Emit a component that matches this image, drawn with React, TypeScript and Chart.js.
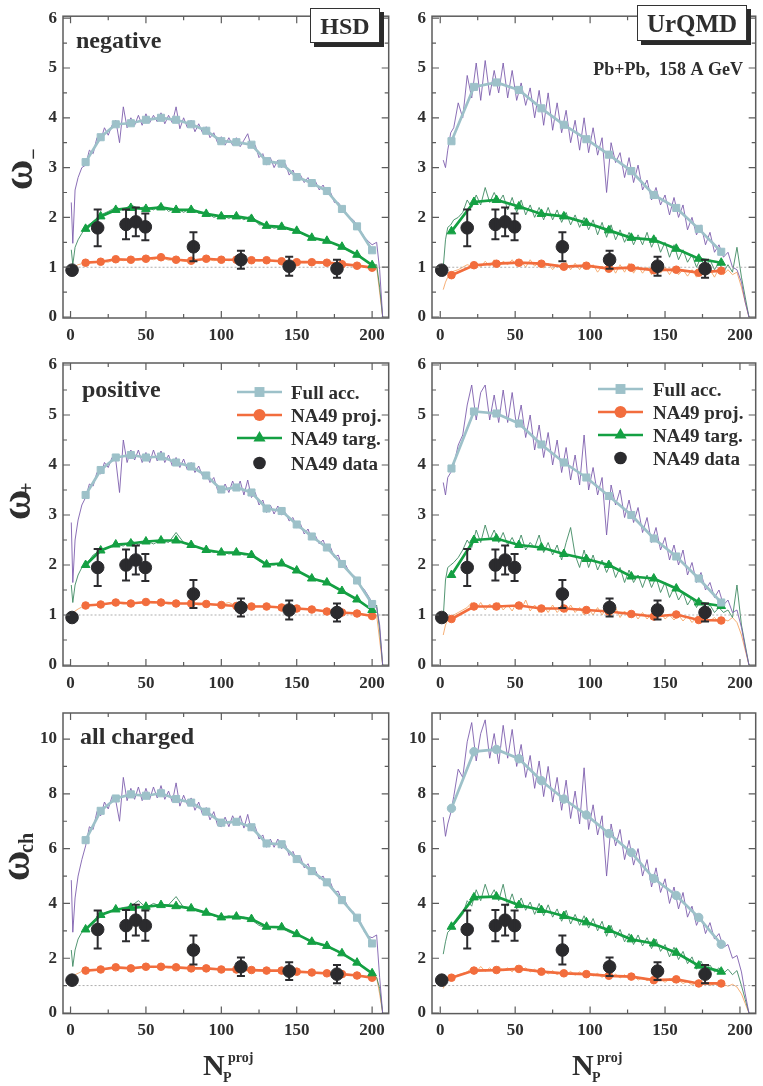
import React, { useEffect, useRef } from 'react';
import { Chart, registerables } from 'chart.js';

Chart.register(...registerables);

const FONT = "'Liberation Serif', 'Times New Roman', serif";
const TEXT_COLOR = '#2e2e2e';
const FULL_COLOR = '#9dc1c9';
const FULL_RAW_COLOR = '#7e5fae';
const PROJ_COLOR = '#f26d3d';
const PROJ_RAW_COLOR = '#f5a565';
const TARG_COLOR = '#14a043';
const TARG_RAW_COLOR = '#3f8a62';
const DATA_COLOR = '#2b2b2e';

// ---- axes ----
const X_TICKS = [0, 50, 100, 150, 200];
const X_MINOR = [25, 75, 125, 175];
const Y_TICKS_PM = [0, 1, 2, 3, 4, 5, 6];
const Y_MINOR_PM = [0.5, 1.5, 2.5, 3.5, 4.5, 5.5];
const Y_TICKS_CH = [0, 2, 4, 6, 8, 10];
const Y_MINOR_CH = [1, 3, 5, 7, 9];

// ---- model points (thick lines) ----
const HSD_X = [10, 20, 30, 40, 50, 60, 70, 80, 90, 100, 110, 120, 130, 140, 150, 160, 170, 180, 190, 200];
const URQMD_X = [7.5, 22.5, 37.5, 52.5, 67.5, 82.5, 97.5, 112.5, 127.5, 142.5, 157.5, 172.5, 187.5];

const HSD_NEG_FULL = [3.11, 3.61, 3.87, 3.89, 3.96, 4.0, 3.96, 3.87, 3.74, 3.53, 3.51, 3.46, 3.13, 3.08, 2.81, 2.69, 2.53, 2.17, 1.82, 1.34];
const HSD_NEG_PROJ = [1.09, 1.11, 1.16, 1.15, 1.17, 1.2, 1.15, 1.13, 1.17, 1.15, 1.15, 1.14, 1.14, 1.12, 1.1, 1.1, 1.09, 1.06, 1.03, 0.99];
const HSD_NEG_TARG = [1.77, 2.02, 2.15, 2.19, 2.17, 2.2, 2.15, 2.15, 2.07, 2.02, 2.02, 1.97, 1.83, 1.81, 1.73, 1.59, 1.53, 1.41, 1.25, 1.04];

const HSD_POS_FULL = [3.4, 3.9, 4.15, 4.2, 4.15, 4.17, 4.05, 3.97, 3.79, 3.51, 3.55, 3.45, 3.13, 3.08, 2.81, 2.57, 2.35, 2.02, 1.69, 1.22];
const HSD_POS_PROJ = [1.19, 1.21, 1.25, 1.23, 1.26, 1.25, 1.23, 1.23, 1.22, 1.2, 1.18, 1.17, 1.17, 1.15, 1.13, 1.11, 1.07, 1.05, 1.03, 0.98];
const HSD_POS_TARG = [2.0, 2.29, 2.41, 2.43, 2.47, 2.49, 2.49, 2.4, 2.3, 2.25, 2.25, 2.2, 2.01, 2.03, 1.89, 1.73, 1.65, 1.48, 1.31, 1.1];

const HSD_CH_FULL = [6.31, 7.38, 7.83, 7.98, 7.93, 8.02, 7.81, 7.68, 7.35, 6.95, 6.98, 6.78, 6.19, 6.16, 5.62, 5.18, 4.77, 4.12, 3.48, 2.54];
const HSD_CH_PROJ = [1.55, 1.59, 1.67, 1.63, 1.69, 1.69, 1.67, 1.63, 1.63, 1.59, 1.59, 1.57, 1.55, 1.55, 1.51, 1.48, 1.45, 1.42, 1.37, 1.29];
const HSD_CH_TARG = [3.05, 3.58, 3.78, 3.84, 3.88, 3.94, 3.9, 3.82, 3.66, 3.49, 3.52, 3.43, 3.15, 3.13, 2.88, 2.6, 2.45, 2.18, 1.84, 1.45];

const URQMD_NEG_FULL = [3.53, 4.62, 4.71, 4.56, 4.19, 3.86, 3.57, 3.26, 2.93, 2.45, 2.19, 1.77, 1.31];
const URQMD_NEG_PROJ = [0.84, 1.04, 1.07, 1.09, 1.07, 1.01, 1.03, 0.97, 0.99, 0.94, 0.95, 0.89, 0.93];
const URQMD_NEG_TARG = [1.72, 2.31, 2.35, 2.22, 2.07, 2.02, 1.89, 1.74, 1.59, 1.55, 1.37, 1.17, 1.09];

const URQMD_POS_FULL = [3.93, 5.07, 5.03, 4.83, 4.41, 4.05, 3.75, 3.38, 3.0, 2.53, 2.17, 1.73, 1.25];
const URQMD_POS_PROJ = [0.92, 1.17, 1.17, 1.19, 1.13, 1.13, 1.1, 1.07, 1.02, 0.97, 1.01, 0.9, 0.89];
const URQMD_POS_TARG = [1.8, 2.5, 2.53, 2.4, 2.35, 2.22, 2.12, 2.0, 1.77, 1.73, 1.53, 1.25, 1.18];

const URQMD_CH_FULL = [7.47, 9.54, 9.62, 9.28, 8.48, 7.81, 7.23, 6.55, 5.86, 4.91, 4.29, 3.49, 2.51];
const URQMD_CH_PROJ = [1.29, 1.55, 1.57, 1.61, 1.51, 1.45, 1.42, 1.36, 1.33, 1.2, 1.23, 1.08, 1.08];
const URQMD_CH_TARG = [3.15, 4.22, 4.25, 3.94, 3.76, 3.54, 3.31, 3.03, 2.69, 2.54, 2.2, 1.73, 1.51];

// ---- NA49 data ----
const NA49_X = [1, 18, 36.8, 43.3, 49.6, 81.5, 113, 145, 176.7];
const NA49_NEG = [0.94, 1.79, 1.86, 1.91, 1.81, 1.41, 1.15, 1.02, 0.97];
const NA49_NEG_ERR = [0, 0.37, 0.3, 0.29, 0.27, 0.29, 0.18, 0.19, 0.18];
const NA49_POS = [0.95, 1.95, 2.0, 2.1, 1.95, 1.42, 1.15, 1.1, 1.05];
const NA49_POS_ERR = [0, 0.37, 0.31, 0.29, 0.27, 0.28, 0.18, 0.19, 0.18];
const NA49_CH = [1.2, 3.05, 3.19, 3.39, 3.19, 2.3, 1.69, 1.53, 1.42];
const NA49_CH_ERR = [0, 0.69, 0.57, 0.56, 0.55, 0.53, 0.34, 0.32, 0.33];

const REF_X = [0, 211];
const REF_Y = [1, 1];

// ---- raw (event-by-event) model curves ----
const HSD_FULL_RAW_X = [0.5, 1.5, 3, 5, 7.5,
  10, 12.5, 15, 17.5, 20, 22.5, 25, 27.5,
  30, 32.5, 35, 37.5, 40, 42.5, 45, 47.5,
  50, 52.5, 55, 57.5, 60, 62.5, 65, 67.5,
  70, 72.5, 75, 77.5, 80, 82.5, 85, 87.5,
  90, 92.5, 95, 97.5, 100, 102.5, 105, 107.5,
  110, 112.5, 115, 117.5, 120, 122.5, 125, 127.5,
  130, 132.5, 135, 137.5, 140, 142.5, 145, 147.5,
  150, 152.5, 155, 157.5, 160, 162.5, 165, 167.5,
  170, 172.5, 175, 177.5, 180, 182.5, 185, 187.5,
  190, 192.5, 195, 197.5, 200,
  203, 205, 207];

const HSD_NEG_FULL_RAW = [2.3, 1.48, 2.55, 2.8, 3.0,
  3.05, 3.35, 3.28, 3.6, 3.55, 3.8, 3.65, 3.85,
  3.95, 3.5, 4.22, 3.8, 4.0, 3.85, 4.05, 3.85,
  4.08, 3.9, 4.05, 3.92, 4.1, 3.88, 4.05, 3.9,
  4.22, 3.78, 4.0, 3.8, 3.95, 3.72, 3.88, 3.7,
  3.82, 3.6, 3.7, 3.5, 3.62, 3.45, 3.6, 3.45,
  3.6, 3.42, 3.55, 3.68, 3.4, 3.45, 3.2, 3.28,
  3.05, 3.2, 3.0, 3.15, 3.0, 3.08, 2.85, 2.95,
  2.75, 2.85, 2.7, 2.8, 2.62, 2.72, 2.55, 2.65,
  2.48, 2.5, 2.3, 2.3, 2.2, 2.1, 2.0, 1.95,
  1.85, 1.72, 1.6, 1.52, 1.45,
  1.5, 0.95, 0];
const HSD_POS_FULL_RAW = [2.85, 1.65, 2.5, 2.9, 3.2,
  3.35, 3.62, 3.58, 3.85, 3.82, 4.05, 3.95, 4.15,
  4.1, 3.45, 4.5, 4.05, 4.3, 4.1, 4.3, 4.05,
  4.25, 4.05, 4.3, 4.08, 4.28, 4.05, 4.2, 3.98,
  4.15, 3.95, 4.12, 3.9, 4.05, 3.85, 3.98, 3.78,
  3.85, 3.65, 3.75, 3.5, 3.45, 3.62, 3.45, 3.68,
  3.48, 3.68, 3.4, 3.7, 3.35, 3.45, 3.2, 3.3,
  3.05, 3.2, 3.02, 3.18, 3.0, 3.05, 2.88, 2.95,
  2.75, 2.82, 2.62, 2.72, 2.5, 2.58, 2.42, 2.5,
  2.3, 2.35, 2.15, 2.2, 2.0, 2.0, 1.85, 1.8,
  1.72, 1.58, 1.5, 1.38, 1.25,
  1.15, 0.8, 0];
const HSD_CH_FULL_RAW = [4.85, 2.95, 4.2, 5.0, 5.6,
  6.1, 6.8, 6.7, 7.35, 7.2, 7.7, 7.45, 7.9,
  7.75, 7.0, 8.6, 7.75, 8.2, 7.8, 8.25, 7.75,
  8.2, 7.8, 8.25, 7.85, 8.3, 7.8, 8.1, 7.7,
  8.4, 7.55, 7.95, 7.6, 7.85, 7.4, 7.7, 7.25,
  7.5, 7.05, 7.35, 6.85, 6.8, 7.15, 6.8, 7.2,
  6.9, 7.2, 6.75, 7.25, 6.65, 6.8, 6.35, 6.5,
  6.05, 6.35, 6.05, 6.35, 6.0, 6.15, 5.75, 5.9,
  5.55, 5.7, 5.3, 5.45, 5.1, 5.2, 4.9, 5.0,
  4.7, 4.75, 4.4, 4.45, 4.1, 4.05, 3.75, 3.7,
  3.45, 3.3, 2.95, 2.8, 2.75,
  2.85, 1.3, 0];

const HSD_RAW_X = [0.5, 1.5, 3, 5, 7.5,
  10, 15, 20, 25, 30, 35, 40, 45, 50, 55,
  60, 65, 70, 75, 80, 85, 90, 95, 100, 105,
  110, 115, 120, 125, 130, 135, 140, 145, 150, 155,
  160, 165, 170, 175, 180, 185, 190, 195, 200,
  203, 205, 207];

const HSD_NEG_TARG_RAW = [1.35, 1.05, 1.4, 1.55, 1.68,
  1.8, 1.92, 2.05, 2.12, 2.2, 2.15, 2.25, 2.18, 2.22, 2.15,
  2.27, 2.12, 2.2, 2.1, 2.2, 2.08, 2.1, 2.0, 2.05, 1.98,
  2.05, 1.95, 2.05, 1.85, 1.85, 1.78, 1.82, 1.75, 1.72, 1.65,
  1.6, 1.55, 1.52, 1.47, 1.4, 1.32, 1.25, 1.15, 1.05,
  1.05, 0.6, 0];
const HSD_NEG_PROJ_RAW = [0.95, 0.98, 1.02, 1.05, 1.07,
  1.08, 1.1, 1.12, 1.1, 1.17, 1.13, 1.16, 1.14, 1.19, 1.15,
  1.2, 1.14, 1.16, 1.12, 1.1, 1.14, 1.17, 1.13, 1.16, 1.13,
  1.15, 1.13, 1.14, 1.12, 1.15, 1.11, 1.12, 1.1, 1.1, 1.09,
  1.1, 1.07, 1.09, 1.06, 1.06, 1.04, 1.03, 1.01, 0.99,
  1.0, 0.5, 0];
const HSD_POS_TARG_RAW = [1.6, 1.25, 1.6, 1.8, 1.95,
  2.0, 2.2, 2.3, 2.35, 2.42, 2.38, 2.5, 2.4, 2.5, 2.42,
  2.5, 2.45, 2.65, 2.45, 2.4, 2.35, 2.3, 2.25, 2.28, 2.22,
  2.25, 2.2, 2.22, 2.08, 2.02, 2.0, 2.05, 1.95, 1.9, 1.8,
  1.75, 1.68, 1.65, 1.55, 1.48, 1.4, 1.3, 1.2, 1.1,
  1.2, 0.7, 0];
const HSD_POS_PROJ_RAW = [0.97, 1.02, 1.08, 1.12, 1.16,
  1.18, 1.2, 1.22, 1.23, 1.25, 1.22, 1.24, 1.23, 1.26, 1.24,
  1.25, 1.22, 1.24, 1.23, 1.24, 1.2, 1.22, 1.2, 1.21, 1.25,
  1.18, 1.2, 1.16, 1.18, 1.16, 1.17, 1.15, 1.14, 1.13, 1.12,
  1.11, 1.09, 1.07, 1.06, 1.05, 1.04, 1.03, 1.0, 0.98,
  1.0, 0.5, 0];
const HSD_CH_TARG_RAW = [2.3, 1.7, 2.3, 2.7, 2.95,
  3.05, 3.35, 3.6, 3.7, 3.75, 3.85, 3.9, 4.1, 3.85, 4.0,
  3.9, 3.95, 4.25, 3.85, 3.8, 3.7, 3.65, 3.55, 3.45, 3.55,
  3.45, 3.5, 3.4, 3.2, 3.1, 3.15, 3.1, 2.95, 2.85, 2.75,
  2.6, 2.5, 2.42, 2.3, 2.15, 2.0, 1.85, 1.65, 1.45,
  1.3, 0.9, 0];
const HSD_CH_PROJ_RAW = [1.2, 1.3, 1.4, 1.45, 1.52,
  1.55, 1.58, 1.6, 1.62, 1.66, 1.63, 1.65, 1.64, 1.7, 1.66,
  1.69, 1.65, 1.67, 1.64, 1.62, 1.64, 1.63, 1.6, 1.6, 1.58,
  1.6, 1.57, 1.57, 1.55, 1.56, 1.54, 1.55, 1.52, 1.51, 1.49,
  1.48, 1.46, 1.45, 1.43, 1.42, 1.39, 1.37, 1.33, 1.29,
  1.3, 0.7, 0];

const URQMD_RAW_X = [2, 3.5, 5, 7,
  9, 12, 15, 18, 21, 24, 27, 30, 33, 36,
  39, 42, 45, 48, 51, 54, 57, 60, 63, 66,
  69, 72, 75, 78, 81, 84, 87, 90, 93, 96,
  99, 102, 105, 108, 111, 114, 117, 120, 123, 126,
  129, 132, 135, 138, 141, 144, 147, 150, 153, 156,
  159, 162, 165, 168, 171, 174, 177, 180, 183, 186,
  189, 192, 195, 198, 201,
  203.5, 206];

const URQMD_NEG_FULL_RAW = [3.15, 3.0, 3.35, 3.7,
  3.8, 4.3, 4.0, 4.85, 4.4, 5.1, 4.35, 5.15, 4.45, 4.95,
  4.5, 5.1, 4.4, 4.95, 4.35, 4.7, 4.25, 4.6, 4.0, 4.55,
  3.85, 4.5, 3.75, 4.3, 3.7, 4.15, 3.5, 3.95, 3.35, 4.0,
  3.3, 3.8, 3.25, 3.6, 2.5, 3.5, 3.1, 3.3, 2.8, 3.2,
  2.7, 3.05, 2.55, 2.75, 2.35, 2.6, 2.25, 2.45, 2.05, 2.4,
  2.0, 2.25, 1.75, 2.0, 1.65, 1.85, 1.45, 1.7, 1.3, 1.45,
  1.2, 1.3, 1.0, 0.95, 0.7,
  0.3, 0];
const URQMD_NEG_TARG_RAW = [1.0, 1.55, 1.8, 1.85,
  1.95, 2.0, 2.1, 2.35, 2.2, 2.45, 2.25, 2.6, 2.3, 2.5,
  2.3, 2.45, 2.15, 2.4, 2.1, 2.35, 2.05, 2.25, 2.0, 2.2,
  1.95, 2.2, 1.95, 2.15, 1.9, 2.1, 1.85, 2.05, 1.8, 2.0,
  1.75, 1.95, 1.65, 1.9, 1.6, 1.85, 1.55, 1.75, 1.5, 1.7,
  1.45, 1.65, 1.45, 1.7, 1.4, 1.6, 1.3, 1.5, 1.2, 1.45,
  1.15, 1.35, 1.1, 1.25, 1.0, 1.2, 0.95, 1.15, 0.95, 1.1,
  0.9, 1.05, 0.9, 1.4, 0.8,
  0.4, 0];
const URQMD_NEG_PROJ_RAW = [0.55, 0.7, 0.8, 0.88,
  0.92, 0.95, 1.0, 1.05, 1.02, 1.1, 1.0, 1.12, 1.02, 1.15,
  1.0, 1.12, 1.05, 1.15, 1.02, 1.12, 1.0, 1.15, 1.02, 1.1,
  0.98, 1.08, 0.95, 1.05, 0.95, 1.1, 0.95, 1.08, 0.95, 1.1,
  0.95, 1.05, 0.9, 1.02, 0.92, 1.05, 0.88, 1.05, 0.9, 1.08,
  0.88, 1.02, 0.88, 1.0, 0.85, 1.0, 0.88, 1.0, 0.85, 1.0,
  0.85, 0.95, 0.82, 0.95, 0.8, 0.92, 0.82, 0.95, 0.8, 0.98,
  0.85, 0.95, 0.85, 0.9, 0.6,
  0.3, 0];

const URQMD_POS_FULL_RAW = [3.65, 3.4, 3.75, 3.85,
  4.0, 4.4, 4.6, 5.2, 5.6, 4.9, 5.45, 5.6, 4.9, 5.4,
  4.85, 5.5, 4.85, 5.45, 4.75, 5.2, 4.55, 5.0, 4.3, 4.8,
  4.15, 4.65, 4.0, 4.5, 3.85, 4.35, 3.7, 4.2, 3.6, 4.6,
  3.5, 3.95, 3.4, 3.75, 2.6, 3.6, 3.2, 3.5, 2.95, 3.3,
  2.85, 3.15, 2.65, 2.95, 2.45, 2.75, 2.3, 2.55, 2.1, 2.4,
  2.0, 2.3, 1.8, 2.05, 1.65, 1.85, 1.5, 1.65, 1.35, 1.5,
  1.2, 1.3, 1.05, 1.1, 0.75,
  0.35, 0];
const URQMD_POS_TARG_RAW = [0.95, 1.7, 1.95, 2.0,
  2.05, 2.15, 2.3, 2.5, 2.35, 2.7, 2.45, 2.8, 2.5, 2.7,
  2.45, 2.65, 2.4, 2.55, 2.35, 2.6, 2.3, 2.45, 2.35, 2.6,
  2.25, 2.45, 2.2, 2.4, 2.1, 2.45, 2.75, 2.2, 1.95, 2.3,
  1.95, 2.2, 1.9, 2.1, 1.85, 2.05, 1.75, 1.95, 1.65, 1.9,
  1.65, 1.8, 1.55, 1.8, 1.55, 1.75, 1.45, 1.65, 1.35, 1.55,
  1.3, 1.45, 1.2, 1.35, 1.15, 1.3, 1.1, 1.2, 1.05, 1.15,
  1.05, 1.1, 0.95, 1.6, 0.8,
  0.4, 0];
const URQMD_POS_PROJ_RAW = [0.6, 0.8, 0.9, 0.95,
  1.0, 1.05, 1.1, 1.15, 1.25, 1.12, 1.25, 1.1, 1.22, 1.1,
  1.25, 1.1, 1.2, 1.08, 1.25, 1.1, 1.3, 1.08, 1.2, 1.05,
  1.18, 1.05, 1.2, 1.05, 1.15, 1.05, 1.2, 1.05, 1.15, 1.0,
  1.12, 1.0, 1.15, 1.0, 1.15, 0.98, 1.15, 0.95, 1.08, 0.95,
  1.05, 0.92, 1.05, 0.92, 1.02, 0.9, 1.05, 0.92, 1.0, 0.9,
  1.0, 0.88, 0.98, 0.85, 0.95, 0.85, 0.95, 0.88, 0.95, 0.85,
  0.92, 0.88, 0.95, 0.85, 0.6,
  0.3, 0];

const URQMD_CH_FULL_RAW = [7.15, 6.45, 6.9, 7.3,
  7.9, 8.9, 8.6, 9.9, 10.6, 9.2, 10.2, 10.7, 9.3, 10.2,
  9.1, 10.5, 9.3, 10.35, 9.0, 9.8, 8.6, 9.4, 8.2, 9.2,
  7.9, 9.0, 7.7, 8.6, 7.4, 8.5, 7.1, 8.1, 6.9, 8.95,
  6.7, 7.6, 6.5, 7.2, 5.0, 6.9, 6.1, 6.7, 5.6, 6.3,
  5.4, 6.0, 5.0, 5.6, 4.6, 5.3, 4.4, 4.9, 4.0, 4.6,
  3.8, 4.4, 3.5, 3.9, 3.2, 3.6, 2.9, 3.3, 2.7, 2.9,
  2.4, 2.5, 2.0, 2.1, 1.5,
  0.7, 0];
const URQMD_CH_TARG_RAW = [2.15, 2.6, 2.95, 3.05,
  3.2, 3.4, 3.6, 4.1, 3.9, 4.5, 4.1, 4.7, 4.2, 4.5,
  4.1, 4.7, 3.9, 4.35, 3.8, 4.2, 3.75, 4.05, 3.6, 4.0,
  3.55, 3.95, 3.5, 3.8, 3.35, 3.75, 3.25, 3.6, 3.2, 3.55,
  3.1, 3.45, 3.0, 3.35, 2.8, 3.2, 2.75, 3.05, 2.6, 2.9,
  2.5, 2.85, 2.45, 2.75, 2.35, 2.7, 2.25, 2.5, 2.05, 2.4,
  1.95, 2.25, 1.8, 2.05, 1.6, 1.9, 1.55, 1.75, 1.5, 1.65,
  1.45, 1.6, 1.4, 1.55, 1.0,
  0.5, 0];
const URQMD_CH_PROJ_RAW = [0.9, 1.1, 1.2, 1.25,
  1.3, 1.4, 1.45, 1.5, 1.65, 1.5, 1.7, 1.52, 1.65, 1.5,
  1.7, 1.55, 1.65, 1.5, 1.75, 1.55, 1.65, 1.5, 1.6, 1.45,
  1.6, 1.42, 1.55, 1.4, 1.55, 1.4, 1.52, 1.38, 1.5, 1.35,
  1.48, 1.35, 1.45, 1.3, 1.45, 1.3, 1.42, 1.28, 1.4, 1.25,
  1.38, 1.2, 1.3, 1.18, 1.28, 1.15, 1.25, 1.12, 1.25, 1.1,
  1.2, 1.08, 1.15, 1.02, 1.12, 1.0, 1.1, 1.0, 1.08, 1.0,
  1.05, 0.98, 1.05, 0.95, 0.7,
  0.35, 0];

const LEGEND_LABELS = ['Full acc.', 'NA49 proj.', 'NA49 targ.', 'NA49 data'];

// ---------------------------------------------------------------
type Ctx = CanvasRenderingContext2D;

type PanelSpec = {
  key: string;
  left: number; top: number; w: number; h: number;
  padTop: number; padRight: number; yW: number; xH: number;
  xMin: number; xMax: number; yMin: number; yMax: number;
  yTicks: number[]; yMinor: number[];
  modelX: number[]; full: number[]; proj: number[]; targ: number[];
  fullMarker: string;
  fullRawX: number[]; rawX: number[]; fullRaw: number[]; projRaw: number[]; targRaw: number[];
  data: number[]; err: number[];
  decorate: (ctx: Ctx) => void;
};

const pts = (xs: number[], ys: number[]) => xs.map((x, i) => ({ x, y: ys[i] }));

function text(ctx: Ctx, s: string, x: number, y: number, size: number, align: CanvasTextAlign = 'left') {
  ctx.font = `bold ${size}px ${FONT}`;
  ctx.fillStyle = TEXT_COLOR;
  ctx.textAlign = align;
  ctx.textBaseline = 'alphabetic';
  ctx.fillText(s, x, y);
}

function boxLabel(ctx: Ctx, s: string, x: number, y: number, w: number, h: number, size: number) {
  ctx.fillStyle = '#2a2a2a';
  ctx.fillRect(x + 4, y + 4, w, h);
  ctx.fillStyle = '#ffffff';
  ctx.fillRect(x, y, w, h);
  ctx.strokeStyle = '#333';
  ctx.lineWidth = 1;
  ctx.strokeRect(x + 0.5, y + 0.5, w - 1, h - 1);
  text(ctx, s, x + w / 2, y + h - 9, size, 'center');
}

function rotText(ctx: Ctx, s: string, cx: number, cy: number, font: string) {
  ctx.save();
  ctx.translate(cx, cy);
  ctx.rotate(-Math.PI / 2);
  ctx.font = font;
  ctx.fillStyle = TEXT_COLOR;
  ctx.textAlign = 'center';
  ctx.textBaseline = 'middle';
  ctx.fillText(s, 0, 0);
  ctx.restore();
}

function omega(ctx: Ctx, cx: number, cy: number, sub: string, sx: number, sy: number, subSize: number) {
  rotText(ctx, 'ω', cx, cy, `bold 42px ${FONT}`);
  rotText(ctx, sub, sx, sy, `bold ${subSize}px ${FONT}`);
}

function xTitle(ctx: Ctx, nx: number, base: number) {
  text(ctx, 'N', nx, base, 30);
  text(ctx, 'P', nx + 20, base + 7, 14);
  text(ctx, 'proj', nx + 25, base - 13, 14);
}

function marker(ctx: Ctx, style: string, x: number, y: number, r: number, color: string) {
  ctx.fillStyle = color;
  ctx.beginPath();
  if (style === 'rect') {
    const s = r * Math.SQRT1_2;
    ctx.rect(x - s, y - s, 2 * s, 2 * s);
  } else if (style === 'triangle') {
    let a = 0;
    ctx.moveTo(x + Math.sin(a) * r, y - Math.cos(a) * r);
    a += (2 * Math.PI) / 3;
    ctx.lineTo(x + Math.sin(a) * r, y - Math.cos(a) * r);
    a += (2 * Math.PI) / 3;
    ctx.lineTo(x + Math.sin(a) * r, y - Math.cos(a) * r);
    ctx.closePath();
  } else {
    ctx.arc(x, y, r, 0, Math.PI * 2);
  }
  ctx.fill();
}

function legend(ctx: Ctx, x1: number, x2: number, tx: number, ys: number[]) {
  const styles = [
    { c: FULL_COLOR, m: 'rect', r: 7 },
    { c: PROJ_COLOR, m: 'circle', r: 6 },
    { c: TARG_COLOR, m: 'triangle', r: 7 },
  ];
  const mid = (x1 + x2) / 2;
  styles.forEach((s, i) => {
    ctx.strokeStyle = s.c;
    ctx.lineWidth = 2.7;
    ctx.beginPath();
    ctx.moveTo(x1, ys[i]);
    ctx.lineTo(x2, ys[i]);
    ctx.stroke();
    marker(ctx, s.m, mid, ys[i], s.r, s.c);
  });
  marker(ctx, 'circle', mid, ys[3], 6.3, DATA_COLOR);
  LEGEND_LABELS.forEach((l, i) => text(ctx, l, tx, ys[i] + 7, 19));
}

function buildConfig(p: PanelSpec): any {
  const tickFont = { family: FONT, size: 17, weight: 'bold' as const };
  const datasets: any[] = [
    {
      data: pts(NA49_X, p.data), showLine: false, pointRadius: 6.3, pointHoverRadius: 6.3,
      pointStyle: 'circle', pointBackgroundColor: DATA_COLOR, pointBorderColor: DATA_COLOR,
      borderColor: DATA_COLOR, backgroundColor: DATA_COLOR, order: 1, errors: p.err,
    },
    {
      data: pts(p.modelX, p.full), borderColor: FULL_COLOR, backgroundColor: FULL_COLOR, borderWidth: 2.7,
      pointStyle: p.fullMarker, pointRadius: p.fullMarker === 'rect' ? 5 : 4.2, pointHoverRadius: 5,
      pointBackgroundColor: FULL_COLOR, pointBorderColor: FULL_COLOR, pointBorderWidth: 1, order: 3,
    },
    {
      data: pts(p.modelX, p.targ), borderColor: TARG_COLOR, backgroundColor: TARG_COLOR, borderWidth: 2.7,
      pointStyle: 'triangle', pointRadius: 5, pointHoverRadius: 5,
      pointBackgroundColor: TARG_COLOR, pointBorderColor: TARG_COLOR, pointBorderWidth: 1, order: 3,
    },
    {
      data: pts(p.modelX, p.proj), borderColor: PROJ_COLOR, backgroundColor: PROJ_COLOR, borderWidth: 2.7,
      pointStyle: 'circle', pointRadius: 3.8, pointHoverRadius: 3.8,
      pointBackgroundColor: PROJ_COLOR, pointBorderColor: PROJ_COLOR, pointBorderWidth: 1, order: 3,
    },
    {
      data: pts(REF_X, REF_Y), borderColor: '#9a9a9a', borderWidth: 0.8, borderDash: [2, 2],
      pointRadius: 0, order: 9,
    },
    { data: pts(p.fullRawX, p.fullRaw), borderColor: FULL_RAW_COLOR, borderWidth: 0.9, pointRadius: 0, order: 10 },
    { data: pts(p.rawX, p.targRaw), borderColor: TARG_RAW_COLOR, borderWidth: 0.9, pointRadius: 0, order: 10 },
    { data: pts(p.rawX, p.projRaw), borderColor: PROJ_RAW_COLOR, borderWidth: 0.9, pointRadius: 0, order: 10 },
  ];

  const deco = {
    id: 'deco',
    afterDatasetsDraw(chart: any) {
      const ctx: Ctx = chart.ctx;
      const xs = chart.scales.x;
      const ys = chart.scales.y;
      // error bars
      chart.data.datasets.forEach((ds: any, di: number) => {
        if (!ds.errors) return;
        const meta = chart.getDatasetMeta(di);
        ctx.save();
        ctx.strokeStyle = DATA_COLOR;
        ctx.lineWidth = 2;
        meta.data.forEach((el: any, i: number) => {
          const e = ds.errors[i];
          if (!e) return;
          const v = ds.data[i].y;
          const x = el.x;
          const y1 = ys.getPixelForValue(v + e);
          const y2 = ys.getPixelForValue(v - e);
          ctx.beginPath();
          ctx.moveTo(x, y1); ctx.lineTo(x, y2);
          ctx.moveTo(x - 4, y1); ctx.lineTo(x + 4, y1);
          ctx.moveTo(x - 4, y2); ctx.lineTo(x + 4, y2);
          ctx.stroke();
        });
        ctx.restore();
      });
      // frame and inward ticks
      const a = chart.chartArea;
      ctx.save();
      ctx.strokeStyle = '#5c5c5c';
      ctx.lineWidth = 1.5;
      ctx.strokeRect(a.left, a.top, a.right - a.left, a.bottom - a.top);
      ctx.lineWidth = 1.2;
      ctx.beginPath();
      const yt = (v: number, len: number) => {
        const y = ys.getPixelForValue(v);
        ctx.moveTo(a.left, y); ctx.lineTo(a.left + len, y);
        ctx.moveTo(a.right, y); ctx.lineTo(a.right - len, y);
      };
      const xt = (v: number, len: number) => {
        const x = xs.getPixelForValue(v);
        ctx.moveTo(x, a.bottom); ctx.lineTo(x, a.bottom - len);
        ctx.moveTo(x, a.top); ctx.lineTo(x, a.top + len);
      };
      p.yTicks.forEach((v) => yt(v, 7));
      p.yMinor.forEach((v) => yt(v, 4));
      X_TICKS.forEach((v) => xt(v, 7));
      X_MINOR.forEach((v) => xt(v, 4));
      ctx.stroke();
      ctx.restore();
    },
    afterDraw(chart: any) {
      const ctx: Ctx = chart.ctx;
      ctx.save();
      ctx.translate(-p.left, -p.top);
      p.decorate(ctx);
      ctx.restore();
    },
  };

  return {
    type: 'line',
    data: { datasets },
    options: {
      responsive: false,
      animation: false,
      events: [],
      layout: { padding: { top: p.padTop, right: p.padRight, left: 0, bottom: 0 } },
      plugins: { legend: { display: false }, tooltip: { enabled: false }, title: { display: false } },
      scales: {
        x: {
          type: 'linear', position: 'bottom', min: p.xMin, max: p.xMax,
          grid: { display: false, drawTicks: false }, border: { display: false },
          ticks: { font: tickFont, color: TEXT_COLOR, padding: 7, maxRotation: 0, autoSkip: false },
          afterBuildTicks: (s: any) => { s.ticks = X_TICKS.map((v) => ({ value: v })); },
          afterFit: (s: any) => { s.height = p.xH; },
        },
        y: {
          type: 'linear', position: 'left', min: p.yMin, max: p.yMax,
          grid: { display: false, drawTicks: false }, border: { display: false },
          ticks: { font: tickFont, color: TEXT_COLOR, padding: 6, autoSkip: false },
          afterBuildTicks: (s: any) => { s.ticks = p.yTicks.map((v) => ({ value: v })); },
          afterFit: (s: any) => { s.width = p.yW; },
        },
      },
    },
    plugins: [deco],
  };
}

const LEFT_COL = { left: 0, w: 396, yW: 63, padRight: 4, xMin: -5, xMax: 211 };
const RIGHT_COL = { left: 396, w: 367, yW: 36, padRight: 3, xMin: -5.5, xMax: 210.5 };
const ROW1 = { top: 0, h: 345, padTop: 15, xH: 27, yMin: -0.02, yMax: 6.04, yTicks: Y_TICKS_PM, yMinor: Y_MINOR_PM };
const ROW2 = { top: 345, h: 345, padTop: 18, xH: 24, yMin: -0.02, yMax: 6.04, yTicks: Y_TICKS_PM, yMinor: Y_MINOR_PM };
const ROW3 = { top: 690, h: 395, padTop: 23, xH: 71.4, yMin: -0.02, yMax: 10.95, yTicks: Y_TICKS_CH, yMinor: Y_MINOR_CH };

const PANELS: PanelSpec[] = [
  {
    key: 'hsd-neg', ...LEFT_COL, ...ROW1,
    modelX: HSD_X, full: HSD_NEG_FULL, proj: HSD_NEG_PROJ, targ: HSD_NEG_TARG, fullMarker: 'rect',
    fullRawX: HSD_FULL_RAW_X, rawX: HSD_RAW_X,
    fullRaw: HSD_NEG_FULL_RAW, projRaw: HSD_NEG_PROJ_RAW, targRaw: HSD_NEG_TARG_RAW,
    data: NA49_NEG, err: NA49_NEG_ERR,
    decorate: (ctx) => {
      text(ctx, 'negative', 76, 48, 24);
      boxLabel(ctx, 'HSD', 310, 8, 70, 35, 24);
      omega(ctx, 21, 175, '−', 35, 154, 20);
    },
  },
  {
    key: 'urqmd-neg', ...RIGHT_COL, ...ROW1,
    modelX: URQMD_X, full: URQMD_NEG_FULL, proj: URQMD_NEG_PROJ, targ: URQMD_NEG_TARG, fullMarker: 'rect',
    fullRawX: URQMD_RAW_X, rawX: URQMD_RAW_X,
    fullRaw: URQMD_NEG_FULL_RAW, projRaw: URQMD_NEG_PROJ_RAW, targRaw: URQMD_NEG_TARG_RAW,
    data: NA49_NEG, err: NA49_NEG_ERR,
    decorate: (ctx) => {
      boxLabel(ctx, 'UrQMD', 637, 5, 110, 36, 25);
      text(ctx, 'Pb+Pb,  158 A GeV', 743, 75, 18, 'right');
    },
  },
  {
    key: 'hsd-pos', ...LEFT_COL, ...ROW2,
    modelX: HSD_X, full: HSD_POS_FULL, proj: HSD_POS_PROJ, targ: HSD_POS_TARG, fullMarker: 'rect',
    fullRawX: HSD_FULL_RAW_X, rawX: HSD_RAW_X,
    fullRaw: HSD_POS_FULL_RAW, projRaw: HSD_POS_PROJ_RAW, targRaw: HSD_POS_TARG_RAW,
    data: NA49_POS, err: NA49_POS_ERR,
    decorate: (ctx) => {
      text(ctx, 'positive', 82, 397, 24);
      legend(ctx, 237, 282, 291, [392, 415, 438, 463]);
      omega(ctx, 19, 505, '+', 28, 488, 20);
    },
  },
  {
    key: 'urqmd-pos', ...RIGHT_COL, ...ROW2,
    modelX: URQMD_X, full: URQMD_POS_FULL, proj: URQMD_POS_PROJ, targ: URQMD_POS_TARG, fullMarker: 'rect',
    fullRawX: URQMD_RAW_X, rawX: URQMD_RAW_X,
    fullRaw: URQMD_POS_FULL_RAW, projRaw: URQMD_POS_PROJ_RAW, targRaw: URQMD_POS_TARG_RAW,
    data: NA49_POS, err: NA49_POS_ERR,
    decorate: (ctx) => {
      legend(ctx, 598, 643, 653, [389, 412, 435, 458]);
    },
  },
  {
    key: 'hsd-ch', ...LEFT_COL, ...ROW3,
    modelX: HSD_X, full: HSD_CH_FULL, proj: HSD_CH_PROJ, targ: HSD_CH_TARG, fullMarker: 'rect',
    fullRawX: HSD_FULL_RAW_X, rawX: HSD_RAW_X,
    fullRaw: HSD_CH_FULL_RAW, projRaw: HSD_CH_PROJ_RAW, targRaw: HSD_CH_TARG_RAW,
    data: NA49_CH, err: NA49_CH_ERR,
    decorate: (ctx) => {
      text(ctx, 'all charged', 80, 744, 24);
      omega(ctx, 18, 866, 'ch', 28, 843, 20);
      xTitle(ctx, 203, 1075);
    },
  },
  {
    key: 'urqmd-ch', ...RIGHT_COL, ...ROW3,
    modelX: URQMD_X, full: URQMD_CH_FULL, proj: URQMD_CH_PROJ, targ: URQMD_CH_TARG, fullMarker: 'circle',
    fullRawX: URQMD_RAW_X, rawX: URQMD_RAW_X,
    fullRaw: URQMD_CH_FULL_RAW, projRaw: URQMD_CH_PROJ_RAW, targRaw: URQMD_CH_TARG_RAW,
    data: NA49_CH, err: NA49_CH_ERR,
    decorate: (ctx) => {
      xTitle(ctx, 572, 1075);
    },
  },
];

function Panel({ spec }: { spec: PanelSpec }) {
  const ref = useRef<HTMLCanvasElement>(null);
  useEffect(() => {
    if (!ref.current) return;
    const chart = new Chart(ref.current, buildConfig(spec));
    return () => chart.destroy();
  }, [spec]);
  return (
    <canvas
      ref={ref}
      width={spec.w}
      height={spec.h}
      style={{ position: 'absolute', left: spec.left, top: spec.top, width: spec.w, height: spec.h }}
    />
  );
}

export default function App() {
  return (
    <div style={{ position: 'absolute', left: 0, top: 0, width: 763, height: 1085, background: '#ffffff', overflow: 'hidden' }}>
      {PANELS.map((p) => (
        <Panel key={p.key} spec={p} />
      ))}
    </div>
  );
}
